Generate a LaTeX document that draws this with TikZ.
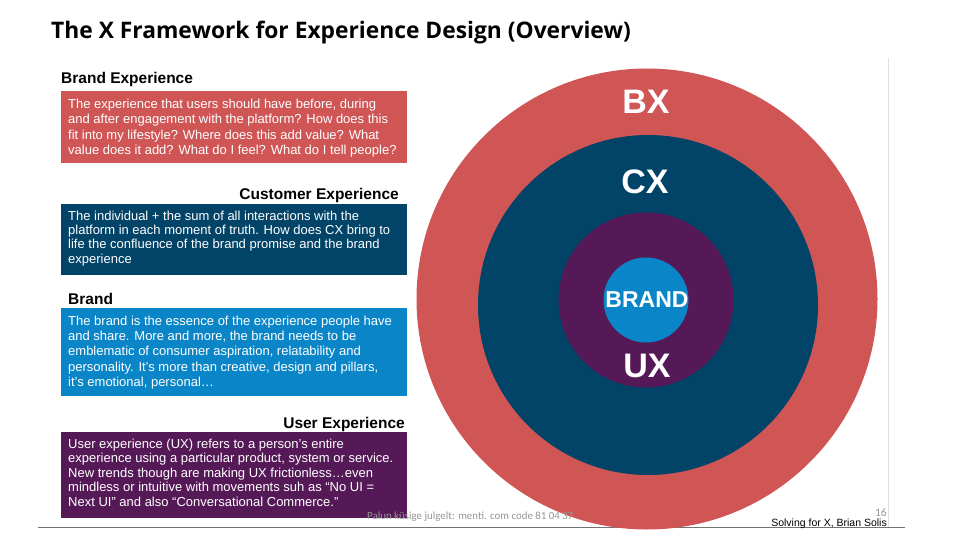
\documentclass[tikz,border=0pt]{standalone}
\usepackage{fontspec}
\setmainfont{Liberation Sans}
\newfontfamily\titlefont{Open Sans}
\newfontfamily\footfont{Carlito}
\definecolor{bxred}{RGB}{208,85,85}
\definecolor{cxblue}{RGB}{2,68,104}
\definecolor{uxpurple}{RGB}{86,25,87}
\definecolor{brandblue}{RGB}{10,134,200}
\definecolor{footgray}{RGB}{150,150,150}
\begin{document}
\begin{tikzpicture}[x=1pt,y=-1pt,
  heading/.style={font=\fontsize{15.5}{17}\selectfont\bfseries, inner sep=0pt},
  body/.style={text=white, align=left, inner sep=0pt, anchor=north west},
  ring/.style={circle, inner sep=0pt, draw=none},
  ringlabel/.style={text=white, inner sep=0pt}]
\useasboundingbox (0,0) rectangle (960,540);
\fill[white] (0,0) rectangle (960,540);

% title
\node[anchor=west, inner sep=0pt, font=\titlefont\fontsize{22.8}{26}\selectfont\bfseries] (title) at (51,33) {The X Framework for Experience Design (Overview)};

% frame lines
\coordinate (vt) at (888,58);
\coordinate (vb) at (888,527);
\draw[black!12, line width=0.8pt] (vt) -- (vb);
\coordinate (hl) at (38,527.5);
\coordinate (hr) at (905,527.5);
\draw[black!55, line width=1.6pt] (hl) -- (hr);

% circles
\node[ring, fill=bxred, minimum size=461pt] (bx) at (647,299) {};
\node[ring, fill=cxblue, minimum size=340pt] (cx) at (648,305) {};
\node[ring, fill=uxpurple, minimum size=175pt] (ux) at (646,300) {};
\node[ring, fill=brandblue, minimum size=85pt] (br) at (646,300) {};
\node[ringlabel, font=\fontsize{34}{36}\selectfont\bfseries] (bxl) at (646,102) {BX};
\node[ringlabel, font=\fontsize{34}{36}\selectfont\bfseries] (cxl) at (645,182) {CX};
\node[ringlabel, font=\fontsize{23}{25}\selectfont\bfseries] (brl) at (647,300) {BRAND};
\node[ringlabel, font=\fontsize{34}{36}\selectfont\bfseries] (uxl) at (647,366) {UX};

% panels
\fill[bxred] (61,91.5) rectangle (407,163);
\fill[cxblue] (61,204) rectangle (407,275);
\fill[brandblue] (61,308) rectangle (407,395.5);
\fill[uxpurple] (61,431.5) rectangle (407,518);

% headings
\node[heading, anchor=base west] (h1) at (61,84) {Brand Experience};
\node[heading, anchor=base east] (h2) at (399,199) {Customer Experience};
\node[heading, anchor=base west] (h3) at (68,304) {Brand};
\node[heading, anchor=base east] (h4) at (405,428) {User Experience};

% body texts
\node[body, font=\fontsize{13}{15.3}\selectfont] (t1) at (68,99) {The experience that users should have before, during\\and after engagement with the platform? How does this\\fit into my lifestyle? Where does this add value? What\\value does it add? What do I feel? What do I tell people?};
\node[body, font=\fontsize{13}{14.3}\selectfont] (t2) at (68,210.5) {The individual + the sum of all interactions with the\\platform in each moment of truth. How does CX bring to\\life the confluence of the brand promise and the brand\\experience};
\node[body, font=\fontsize{13}{15.3}\selectfont] (t3) at (68,315.5) {The brand is the essence of the experience people have\\and share. More and more, the brand needs to be\\emblematic of consumer aspiration, relatability and\\personality. It's more than creative, design and pillars,\\it's emotional, personal\dots};
\node[body, font=\fontsize{13}{14.5}\selectfont] (t4) at (68,438.5) {User experience (UX) refers to a person's entire\\experience using a particular product, system or service.\\New trends though are making UX frictionless\dots even\\mindless or intuitive with movements suh as ``No UI =\\Next UI'' and also ``Conversational Commerce.''};

% footer
\node[anchor=base west, inner sep=0pt, text=footgray, font=\footfont\fontsize{10.9}{13}\selectfont] (foot) at (367,519) {Palun küsige julgelt: menti. com code 81 04 37};
\node[anchor=base east, inner sep=0pt, text=footgray, font=\footfont\fontsize{11.5}{13}\selectfont] (pg) at (887,516.5) {16};
\node[anchor=base east, inner sep=0pt, font=\fontsize{10.5}{12}\selectfont] (src) at (887,526.5) {Solving for X, Brian Solis};
\end{tikzpicture}
\end{document}
